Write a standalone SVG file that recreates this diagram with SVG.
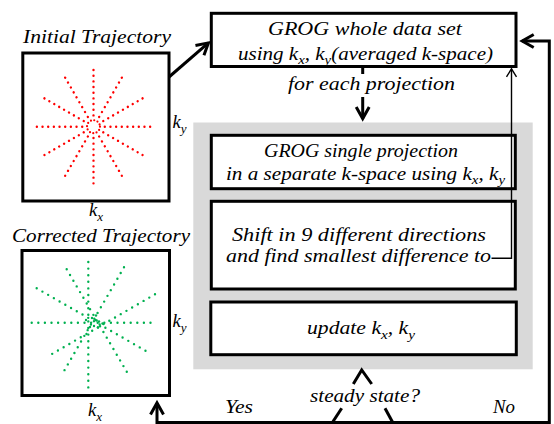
<svg xmlns="http://www.w3.org/2000/svg" width="554" height="424" viewBox="0 0 554 424">
<style>
text{font-family:"Liberation Serif","Times New Roman",serif;font-style:italic;font-size:18.5px;fill:#000}
.sub{font-size:13px}
.box{fill:#fff;stroke:#000;stroke-width:3}
.rd{stroke:#ff0000;stroke-width:2.4;stroke-linecap:round;stroke-dasharray:0 5.667;fill:none}
.gd{stroke:#00b050;stroke-width:2.4;stroke-linecap:round;stroke-dasharray:0 6.6;fill:none}
.gc{fill:#00b050}
.thick{fill:none;stroke:#000;stroke-width:3}
.thin{fill:none;stroke:#000;stroke-width:1.4}
</style>
<defs>
<marker id="ah" viewBox="-14 -9 20 18" refX="0" refY="0" markerWidth="20" markerHeight="18" markerUnits="userSpaceOnUse" orient="auto-start-reverse">
<path d="M-11.5,-6.5 L0,0 L-11.5,6.5" fill="none" stroke="#000" stroke-width="3"/>
</marker>
<marker id="ahs" viewBox="-12 -8 16 16" refX="0" refY="0" markerWidth="16" markerHeight="16" markerUnits="userSpaceOnUse" orient="auto">
<path d="M-8,-5 L0,0 L-8,5" fill="none" stroke="#000" stroke-width="1.4"/>
</marker>
</defs>

<rect id="loop-region" x="193.3" y="122.5" width="339.4" height="246.8" fill="#d9d9d9"/>

<g id="initial">
<text x="23" y="43" textLength="148" lengthAdjust="spacingAndGlyphs">Initial Trajectory</text>
<rect class="box" x="22.8" y="53" width="146.2" height="148"/>
<g transform="translate(93.5,126.7)">
<line class="rd" x1="11.3" y1="0" x2="62.3" y2="0"/>
<line class="rd" x1="11.3" y1="0" x2="62.3" y2="0" transform="rotate(30)"/>
<line class="rd" x1="11.3" y1="0" x2="62.3" y2="0" transform="rotate(60)"/>
<line class="rd" x1="11.3" y1="0" x2="62.3" y2="0" transform="rotate(90)"/>
<line class="rd" x1="11.3" y1="0" x2="62.3" y2="0" transform="rotate(120)"/>
<line class="rd" x1="11.3" y1="0" x2="62.3" y2="0" transform="rotate(150)"/>
<line class="rd" x1="11.3" y1="0" x2="62.3" y2="0" transform="rotate(180)"/>
<line class="rd" x1="11.3" y1="0" x2="62.3" y2="0" transform="rotate(210)"/>
<line class="rd" x1="11.3" y1="0" x2="62.3" y2="0" transform="rotate(240)"/>
<line class="rd" x1="11.3" y1="0" x2="62.3" y2="0" transform="rotate(270)"/>
<line class="rd" x1="11.3" y1="0" x2="62.3" y2="0" transform="rotate(300)"/>
<line class="rd" x1="11.3" y1="0" x2="62.3" y2="0" transform="rotate(330)"/>
<circle class="rd" cx="0" cy="0" r="6.5" style="stroke-dasharray:0 3.403;stroke-width:2.2"/>
</g>
<text x="172.5" y="128">k<tspan class="sub" dy="4.5">y</tspan></text>
<text x="89" y="216">k<tspan class="sub" dy="4.5">x</tspan></text>
</g>

<g id="corrected">
<text x="12" y="242" textLength="178" lengthAdjust="spacingAndGlyphs">Corrected Trajectory</text>
<rect class="box" x="22" y="250.5" width="147.5" height="145"/>
<line class="gd" x1="31.7" y1="322.7" x2="156.7" y2="322.7"/>
<line class="gd" x1="88.3" y1="262" x2="88.3" y2="388"/>
<line class="gd" x1="36.7" y1="288.3" x2="146" y2="351"/>
<line class="gd" x1="66.7" y1="269.3" x2="130" y2="377.3"/>
<line class="gd" x1="124" y1="267.3" x2="61.7" y2="375"/>
<line class="gd" x1="155" y1="294.3" x2="47.3" y2="356.7"/>
<circle class="gc" cx="92" cy="318" r="1.2"/>
<circle class="gc" cx="95.5" cy="320" r="1.2"/>
<circle class="gc" cx="99" cy="321.5" r="1.2"/>
<circle class="gc" cx="102.5" cy="323.5" r="1.2"/>
<circle class="gc" cx="96" cy="315.5" r="1.2"/>
<circle class="gc" cx="90" cy="327" r="1.2"/>
<circle class="gc" cx="94" cy="326" r="1.2"/>
<circle class="gc" cx="98" cy="327.5" r="1.2"/>
<circle class="gc" cx="86" cy="320" r="1.2"/>
<text x="172.5" y="327">k<tspan class="sub" dy="4.5">y</tspan></text>
<text x="88" y="416">k<tspan class="sub" dy="4.5">x</tspan></text>
</g>

<g id="grog-whole">
<rect class="box" x="211.3" y="13.3" width="304.7" height="53.2"/>
<text x="268" y="35" textLength="194" lengthAdjust="spacingAndGlyphs">GROG whole data set</text>
<text x="238" y="59.5" textLength="255" lengthAdjust="spacingAndGlyphs">using k<tspan class="sub" dy="4.5">x</tspan><tspan dy="-4.5">, k</tspan><tspan class="sub" dy="4.5">y</tspan><tspan dy="-4.5">(averaged k-space)</tspan></text>
</g>

<g id="grog-single">
<rect class="box" x="211.3" y="135.3" width="304" height="53.4"/>
<text x="264" y="157" textLength="194" lengthAdjust="spacingAndGlyphs">GROG single projection</text>
<text x="226" y="179.5" textLength="279" lengthAdjust="spacingAndGlyphs">in a separate k-space using k<tspan class="sub" dy="4.5">x</tspan><tspan dy="-4.5">, k</tspan><tspan class="sub" dy="4.5">y</tspan></text>
</g>

<g id="shift">
<rect class="box" x="211.3" y="201.3" width="304" height="87.7"/>
<text x="232" y="240.5" textLength="254" lengthAdjust="spacingAndGlyphs">Shift in 9 different directions</text>
<text x="226" y="261.7" textLength="265" lengthAdjust="spacingAndGlyphs">and find smallest difference to</text>
</g>

<g id="update">
<rect class="box" x="210.8" y="302" width="305.5" height="52.7"/>
<text x="307" y="334" textLength="108" lengthAdjust="spacingAndGlyphs">update k<tspan class="sub" dy="4.5">x</tspan><tspan dy="-4.5">, k</tspan><tspan class="sub" dy="4.5">y</tspan></text>
</g>

<g id="steady">
<text x="310" y="401.5" textLength="110" lengthAdjust="spacingAndGlyphs">steady state?</text>
</g>

<g id="labels">
<text x="288" y="89.5" textLength="167" lengthAdjust="spacingAndGlyphs">for each projection</text>
<text x="225" y="413" textLength="28" lengthAdjust="spacingAndGlyphs">Yes</text>
<text x="493" y="413" textLength="22" lengthAdjust="spacingAndGlyphs">No</text>
</g>

<g id="connectors">
<path class="thick" d="M169,77 L208.4,42.9" marker-end="url(#ah)"/>
<path class="thick" d="M362.7,66.5 V74"/>
<path class="thick" d="M362.7,97 V118.6" marker-end="url(#ah)"/>
<path class="thin" d="M491.5,258.3 H511.5 V68.8" marker-end="url(#ahs)"/>
<path class="thick" d="M157,402.9 V422.5 H549.3 V41 H522.2" marker-start="url(#ah)" marker-end="url(#ah)"/>
<path class="thick" d="M353.3,384 L361.7,370 L371.7,384"/>
<path class="thick" d="M331.7,423.5 L341.7,408.3"/>
<path class="thick" d="M385,408.3 L393.3,423.5"/>
</g>
</svg>
